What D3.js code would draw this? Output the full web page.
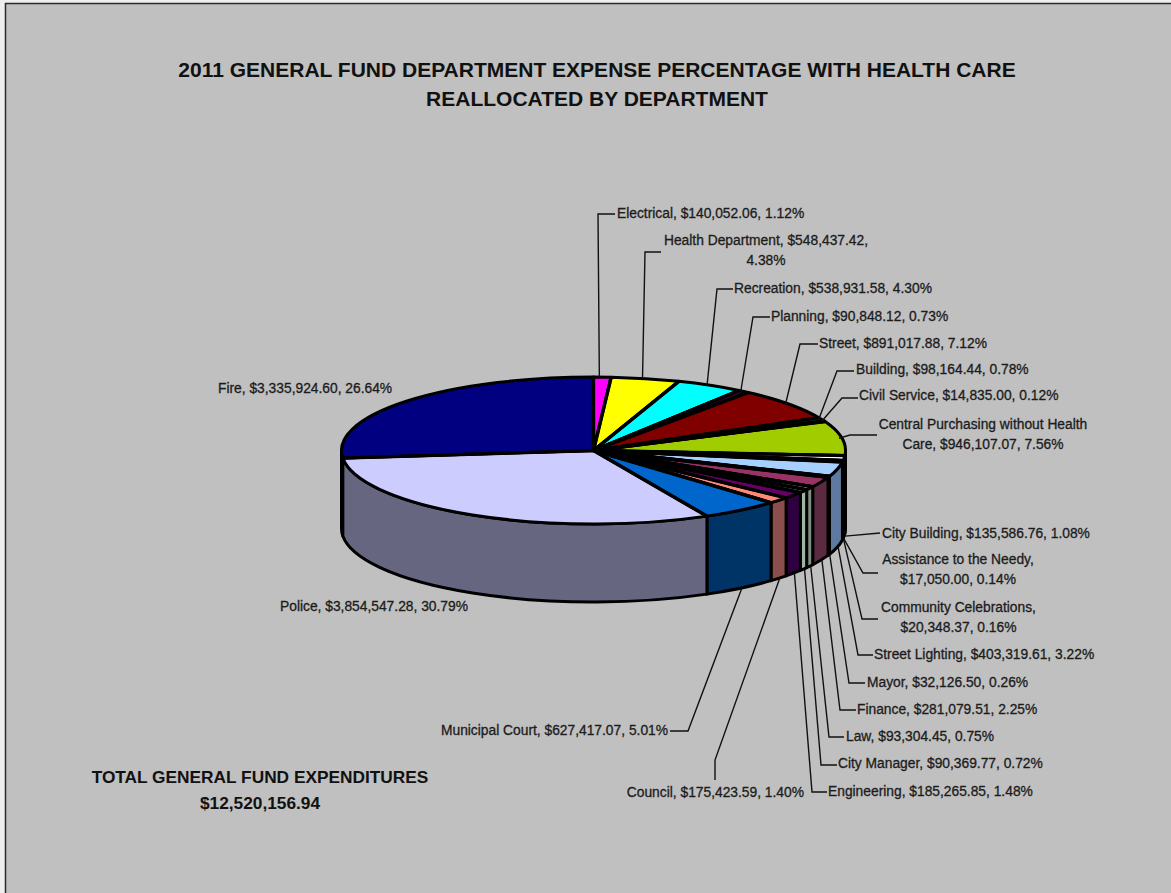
<!DOCTYPE html>
<html>
<head>
<meta charset="utf-8">
<title>2011 General Fund Department Expense Percentage</title>
<script src="https://cdnjs.cloudflare.com/ajax/libs/d3/7.8.5/d3.min.js"></script>
<style>
  html, body { margin: 0; padding: 0; background: #eeeeee; }
  svg { display: block; }
  text { font-family: "Liberation Sans", Arial, sans-serif; }
</style>
</head>
<body>
<svg id="chart" width="1171" height="893"></svg>
<script>
// Departments in clockwise order from twelve o'clock.
const departments = ["Electrical", "Health Department", "Recreation", "Planning", "Street", "Building",
  "Civil Service", "Central Purchasing without Health Care", "City Building", "Assistance to the Needy",
  "Community Celebrations", "Street Lighting", "Mayor", "Finance", "Law", "City Manager", "Engineering",
  "Council", "Municipal Court", "Police", "Fire"];
const amounts = [140052.06, 548437.42, 538931.58, 90848.12, 891017.88, 98164.44, 14835.00, 946107.07,
  135586.76, 17050.00, 20348.37, 403319.61, 32126.50, 281079.51, 93304.45, 90369.77, 185265.85,
  175423.59, 627417.07, 3854547.28, 3335924.60];
const percents = [1.12, 4.38, 4.30, 0.73, 7.12, 0.78, 0.12, 7.56, 1.08, 0.14, 0.16, 3.22, 0.26, 2.25,
  0.75, 0.72, 1.48, 1.40, 5.01, 30.79, 26.64];
const sliceColors = ["#ff00ff", "#ffff00", "#00ffff", "#300030", "#800000", "#006060", "#0000a0", "#a0cc00",
  "#ffffff", "#000000", "#101010", "#a6d0ff", "#200020", "#993366", "#ffffcc", "#ccffcc", "#660066",
  "#ff8878", "#0066cc", "#ccccff", "#000080"];
// Shaded tones of the outer wall, same order as the slices.
const wallColors = ["#800080", "#808000", "#008080", "#180018", "#400000", "#003030", "#000050", "#506600",
  "#101010", "#000000", "#080808", "#5f7a9f", "#100010", "#5a2a40", "#7f917f", "#a3b3a3", "#2f0040",
  "#8a4f4c", "#003366", "#666680", "#000040"];
const titleLines = ["2011 GENERAL FUND DEPARTMENT EXPENSE PERCENTAGE WITH HEALTH CARE",
  "REALLOCATED BY DEPARTMENT"];
const totalLines = ["TOTAL GENERAL FUND EXPENDITURES", "$12,520,156.94"];

// Label wrapping: where a department's label breaks onto a second line.
const wrapAfter = {
  "Health Department": ["Health Department, $548,437.42,", "4.38%"],
  "Central Purchasing without Health Care": ["Central Purchasing without Health", "Care, $946,107.07, 7.56%"],
  "Assistance to the Needy": ["Assistance to the Needy,", "$17,050.00, 0.14%"],
  "Community Celebrations": ["Community Celebrations,", "$20,348.37, 0.16%"]
};

// Label placement: anchor x, baseline of the first line, and the bends of each leader line.
const labelPlacement = {
  "Electrical":    { x: 617, y: 218, anchor: "start", bends: [[598, 214], [615, 214]] },
  "Health Department": { x: 766, y: 245, anchor: "middle", bends: [[645, 252], [661, 252]] },
  "Recreation":    { x: 734, y: 293, anchor: "start", bends: [[717, 289], [733, 289]] },
  "Planning":      { x: 771, y: 321, anchor: "start", bends: [[753, 317], [770, 317]] },
  "Street":        { x: 819, y: 348, anchor: "start", bends: [[800, 344], [818, 344]] },
  "Building":      { x: 856, y: 374, anchor: "start", bends: [[837, 371], [854, 371]] },
  "Civil Service": { x: 859, y: 400, anchor: "start", bends: [[842, 398], [858, 398]] },
  "Central Purchasing without Health Care": { x: 983, y: 429, anchor: "middle", bends: [[850, 435], [877, 435]] },
  "City Building": { x: 882, y: 538, anchor: "start", bends: [[880, 533]] },
  "Assistance to the Needy": { x: 958, y: 564, anchor: "middle", bends: [[863, 573], [878, 573]] },
  "Community Celebrations": { x: 958.5, y: 612, anchor: "middle", bends: [[862, 619], [878, 619]] },
  "Street Lighting": { x: 874, y: 659, anchor: "start", bends: [[858, 655], [873, 655]] },
  "Mayor":         { x: 867, y: 687, anchor: "start", bends: [[849, 683], [865, 683]] },
  "Finance":       { x: 857, y: 714, anchor: "start", bends: [[840, 710], [856, 710]] },
  "Law":           { x: 846, y: 741, anchor: "start", bends: [[829, 737], [844, 737]] },
  "City Manager":  { x: 838, y: 768, anchor: "start", bends: [[821, 765], [837, 765]] },
  "Engineering":   { x: 828, y: 796, anchor: "start", bends: [[812, 792], [827, 792]] },
  "Council":       { x: 804, y: 797, anchor: "end", bends: [[715, 760], [715, 780]] },
  "Municipal Court": { x: 668, y: 735, anchor: "end", bends: [[688, 731], [670, 731]] },
  "Police":        { x: 280, y: 611, anchor: "start", bends: null },
  "Fire":          { x: 218, y: 393, anchor: "start", bends: null }
};

const svg = d3.select("#chart");
svg.append("rect").attr("x", 5.5).attr("y", 3.5).attr("width", 1170).attr("height", 892)
  .attr("fill", "#c0c0c0").attr("stroke", "#2a2a2a").attr("stroke-width", 1.5);

// Tilted pie geometry.
const cx = 593.5, cy = 450.5, rx = 252, ry = 73.5, depth = 78;
const borderWidth = 3, spokeWidth = 3.4;

const slices = d3.pie().sort(null).value((d, i) => amounts[i])(departments);
const arcTop = d3.arc().innerRadius(0).outerRadius(rx);
const rimX = a => cx + rx * Math.sin(a);
const rimY = a => cy - ry * Math.cos(a);

// Outer wall of one slice, clipped to the half of the rim facing the viewer.
function wallPath(a0, a1) {
  return `M${rimX(a0)},${rimY(a0)}A${rx},${ry} 0 0 1 ${rimX(a1)},${rimY(a1)}` +
    `L${rimX(a1)},${rimY(a1) + depth}A${rx},${ry} 0 0 0 ${rimX(a0)},${rimY(a0) + depth}Z`;
}
const wallOf = s => {
  const a0 = Math.max(s.startAngle, Math.PI / 2), a1 = Math.min(s.endAngle, 3 * Math.PI / 2);
  return a1 > a0 ? { a0, a1, index: s.index } : null;
};
const walls = slices.map(wallOf).filter(Boolean)
  .sort((p, q) => Math.abs((q.a0 + q.a1) / 2 - Math.PI) - Math.abs((p.a0 + p.a1) / 2 - Math.PI));

svg.append("g").selectAll("path").data(walls).join("path")
  .attr("d", d => wallPath(d.a0, d.a1))
  .attr("fill", d => wallColors[d.index])
  .attr("stroke", "#000").attr("stroke-width", borderWidth).attr("stroke-linejoin", "round");

svg.append("g").attr("transform", `translate(${cx},${cy}) scale(1,${ry / rx})`)
  .selectAll("path").data(slices).join("path")
  .attr("d", arcTop)
  .attr("fill", (d, i) => sliceColors[i])
  .attr("stroke", "#000").attr("stroke-width", borderWidth).attr("stroke-linejoin", "round")
  .attr("vector-effect", "non-scaling-stroke");

// Heavier radial borders between the slices on the top face.
svg.append("g").selectAll("line").data(slices).join("line")
  .attr("x1", cx).attr("y1", cy)
  .attr("x2", d => rimX(d.startAngle)).attr("y2", d => rimY(d.startAngle))
  .attr("stroke", "#000").attr("stroke-width", spokeWidth);

// Leader lines start on the rim: the top edge behind the pie, the bottom edge in front.
const leader = d3.line();
const leaderData = slices.filter(s => labelPlacement[s.data].bends).map(s => {
  const mid = (s.startAngle + s.endAngle) / 2;
  const front = mid > Math.PI / 2;
  const start = front ? [rimX(mid) + 1, rimY(mid) + depth] : [rimX(mid) - 3, rimY(mid)];
  return [start, ...labelPlacement[s.data].bends];
});
svg.append("g").selectAll("path").data(leaderData).join("path")
  .attr("d", leader).attr("fill", "none").attr("stroke", "#111").attr("stroke-width", 1.4);

// Data labels read "Department, $amount, percent%".
const money = d3.format("$,.2f");
const labels = svg.append("g").attr("fill", "#1c1c1c").attr("font-size", 13.8)
  .attr("stroke", "#1c1c1c").attr("stroke-width", 0.3);
slices.forEach((s, i) => {
  const p = labelPlacement[s.data];
  const lines = wrapAfter[s.data] || [`${s.data}, ${money(amounts[i])}, ${percents[i].toFixed(2)}%`];
  const t = labels.append("text").attr("text-anchor", p.anchor);
  lines.forEach((line, k) => {
    t.append("tspan").attr("x", p.x).attr("y", p.y + k * 20).text(line);
  });
});

svg.append("g").attr("font-weight", "bold").attr("font-size", 21).attr("fill", "#111")
  .attr("text-anchor", "middle").selectAll("text").data(titleLines).join("text")
  .attr("x", 597).attr("y", (d, i) => 77 + i * 29).text(d => d);

svg.append("g").attr("font-weight", "bold").attr("font-size", 17.3).attr("fill", "#111")
  .attr("text-anchor", "middle").selectAll("text").data(totalLines).join("text")
  .attr("x", 260).attr("y", (d, i) => 783 + i * 25.5).text(d => d);
</script>
</body>
</html>
